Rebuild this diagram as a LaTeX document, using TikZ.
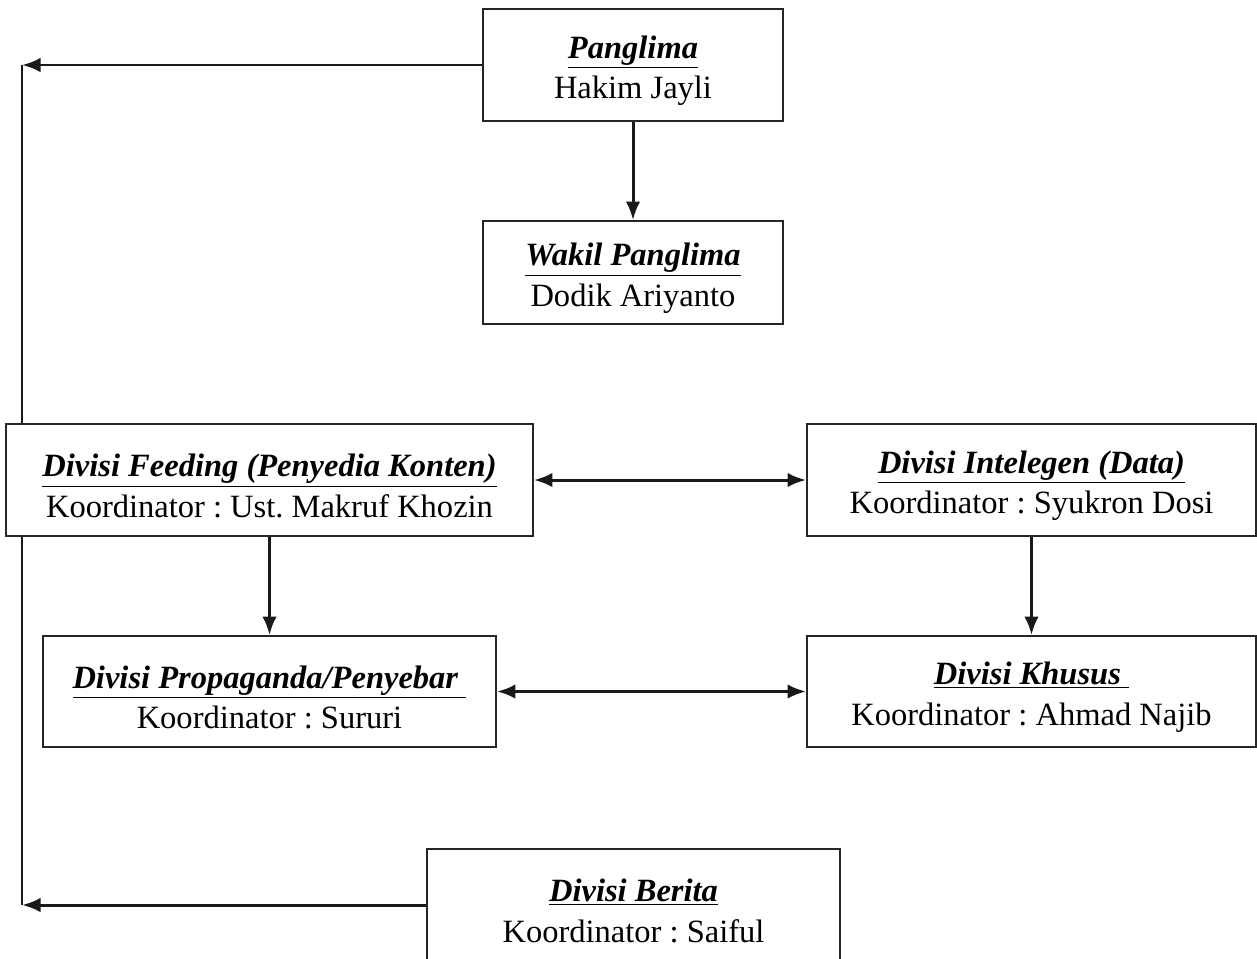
\documentclass[tikz,border=0pt]{standalone}
\usepackage{fontspec}
\setmainfont{Liberation Serif}
\usetikzlibrary{arrows.meta, positioning}

\tikzset{
  box/.style = {draw=black!85, line width=1.1pt, align=center,
    inner sep=0pt, font=\fontsize{18.5}{23}\selectfont\frenchspacing},
  link/.style = {line width=1.7pt, black!90}
}
\newcommand{\jabatan}[1]{\rule{0pt}{1.05em}\underline{\textbf{\textit{#1}}}}

\begin{document}
\begin{tikzpicture}[>={Latex[length=0.37cm, width=0.29cm]}]
  \useasboundingbox (0,0) rectangle (25.14,-19.16);

  \node (pang) [box, minimum width=6cm, minimum height=2.24cm] at (12.66,-1.3)
    {\jabatan{Panglima}\\ Hakim Jayli};
  \node (wakil) [box, minimum width=6cm, minimum height=2.06cm] at (12.66,-5.45)
    {\jabatan{Wakil Panglima}\\ Dodik Ariyanto};
  \node (feed) [box, minimum width=10.54cm, minimum height=2.24cm] at (5.39,-9.6)
    {\jabatan{Divisi Feeding (Penyedia Konten)}\\ Koordinator : Ust. Makruf Khozin};
  \node (intel) [box, minimum width=8.98cm, minimum height=2.24cm] at (20.63,-9.6)
    {\jabatan{Divisi Intelegen (Data)}\\ Koordinator : Syukron Dosi};
  \node (prop) [box, minimum width=9.06cm, minimum height=2.22cm] at (5.39,-13.83)
    {\jabatan{Divisi Propaganda/Penyebar\ }\\ Koordinator : Sururi};
  \node (khusus) [box, minimum width=8.98cm, minimum height=2.22cm] at (20.63,-13.83)
    {\jabatan{Divisi Khusus\ }\\ Koordinator : Ahmad Najib};
  \node (berita) [box, minimum width=8.26cm, minimum height=2.24cm] at (12.67,-18.1)
    {\jabatan{Divisi Berita}\\ Koordinator : Saiful};

  \coordinate (kiriatas) at (0.44,-1.3);
  \coordinate (kiribawah) at (0.44,-18.1);

  \path [->, link]
    (pang) edge (wakil)
    (feed) edge (prop)
    (intel) edge (khusus)
    (pang.west) edge (kiriatas)
    (berita.west) edge (kiribawah);
  \path [<->, link]
    (feed) edge (intel)
    (prop) edge (khusus);
  \draw [link] (kiriatas) -- (kiriatas |- feed.north);
  \draw [link] (kiribawah |- feed.south) -- (kiribawah);
\end{tikzpicture}
\end{document}
